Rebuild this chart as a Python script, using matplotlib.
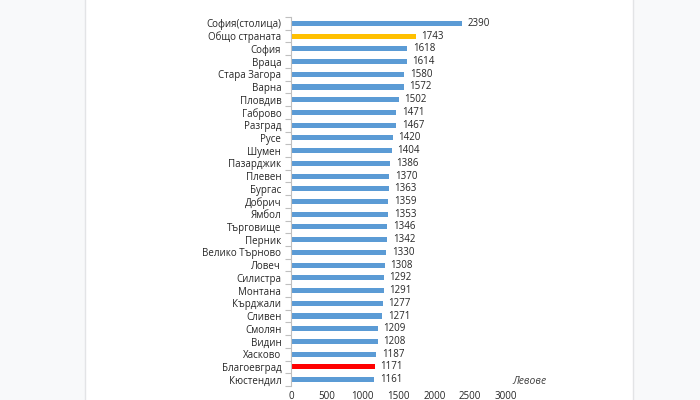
import matplotlib
matplotlib.use('Agg')
import matplotlib.pyplot as plt
from matplotlib.patches import Rectangle
import numpy as np

plt.rcParams['font.family'] = ['Open Sans', 'DejaVu Sans']

# regions, top to bottom
regions = ['София(столица)', 'Общо страната', 'София', 'Враца', 'Стара Загора',
           'Варна', 'Пловдив', 'Габрово', 'Разград', 'Русе', 'Шумен', 'Пазарджик',
           'Плевен', 'Бургас', 'Добрич', 'Ямбол', 'Търговище', 'Перник',
           'Велико Търново', 'Ловеч', 'Силистра', 'Монтана', 'Кърджали', 'Сливен',
           'Смолян', 'Видин', 'Хасково', 'Благоевград', 'Кюстендил']
salary = [2390, 1743, 1618, 1614, 1580, 1572, 1502, 1471, 1467, 1420, 1404, 1386,
          1370, 1363, 1359, 1353, 1346, 1342, 1330, 1308, 1292, 1291, 1277, 1271,
          1209, 1208, 1187, 1171, 1161]
xticks = [0, 500, 1000, 1500, 2000, 2500, 3000]

blue = '#5B9BD5'
colors = [blue] * len(regions)
colors[regions.index('Общо страната')] = '#FFC000'
colors[regions.index('Благоевград')] = '#FF0000'

fig = plt.figure(figsize=(7, 4), dpi=100, facecolor='#f8f9fa')
# white page behind the chart
page = Rectangle((85 / 700, -0.01), (633 - 85) / 700, 1.02, transform=fig.transFigure,
                 facecolor='white', edgecolor='#e3e4e6', linewidth=1.0, zorder=-5)
fig.add_artist(page)

n = len(regions)
top_px, bot_px = 17.0, 386.0
ax = fig.add_axes([291 / 700, 1 - bot_px / 400, (506 - 291) / 700, (bot_px - top_px) / 400])
ax.set_facecolor('none')
ax.set_zorder(2)

y = np.arange(n)
ax.barh(y, salary, height=0.4, color=colors)
for yi, v in zip(y, salary):
    ax.text(v + 80, yi, str(v), va='center', ha='left', fontsize=7, color='#262626')

ax.set_xlim(0, 3000)
ax.set_ylim(n - 0.5, -0.5)
ax.set_yticks(y)
ax.set_yticklabels(regions, fontsize=7, color='#262626')
ax.set_yticks(np.arange(n + 1) - 0.5, minor=True)
ax.tick_params(axis='y', which='major', length=0, pad=7)
ax.tick_params(axis='y', which='minor', length=4, color='#bfbfbf', width=0.8)
ax.set_xticks(xticks)
ax.set_xticklabels([str(t) for t in xticks], fontsize=7, color='#262626')
ax.tick_params(axis='x', length=0, pad=3.5)

for s in ['top', 'right', 'bottom']:
    ax.spines[s].set_visible(False)
ax.spines['left'].set_color('#bfbfbf')
ax.spines['left'].set_linewidth(0.8)

ax.text(1.03, 0.011, 'Левове', transform=ax.transAxes, fontsize=7.5, style='italic',
        color='#404040', ha='left', va='center')

fig.savefig('out.png', dpi=100, facecolor=fig.get_facecolor())
